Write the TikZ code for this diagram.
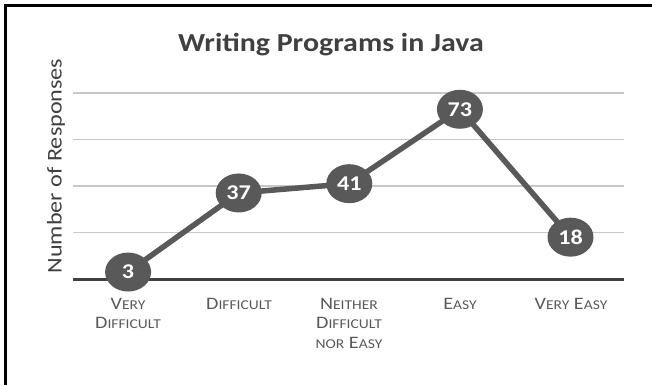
\documentclass[tikz,border=0pt]{standalone}
\usepackage{fontspec}
\setmainfont{Carlito}[FakeStretch=1.15]
\usepackage{tikz}
\usetikzlibrary{positioning,shapes.geometric}

\definecolor{inkgray}{HTML}{595959}
\definecolor{axisgray}{HTML}{404040}
\definecolor{gridgray}{HTML}{C8C8C8}
\definecolor{titlegray}{HTML}{404040}

% fake small caps: big first letter, smaller capitals after it
\newcommand{\fsc}[2]{#1{\fontsize{13.5}{19.5}\selectfont #2}}

\begin{document}
\begin{tikzpicture}[
  x=1pt, y=-1pt,
  every node/.style={inner sep=0pt},
  frame/.style={line width=3.5pt, black},
  grid line/.style={line width=1.8pt, gridgray},
  axis line/.style={line width=3pt, axisgray},
  trend/.style={line width=5.5pt, inkgray, line join=round},
  dot/.style={ellipse, fill=inkgray, minimum width=46pt, minimum height=39pt,
    text=white, font=\fontsize{21}{22}\selectfont\bfseries},
  cat/.style={anchor=north, align=center, text=inkgray,
    font=\fontsize{17.5}{19.5}\selectfont},
]
\useasboundingbox (0,0) rectangle (652,385);
\draw[frame] (5.5,385) -- (5.5,5.5) -- (652,5.5);

% grid and axis
\foreach \g in {20,40,60,80}
  \draw[grid line] (73,{279-2.325*\g}) -- (624,{279-2.325*\g});
\coordinate (ax0) at (73,279);
\coordinate (ax1) at (624,279);
\draw[axis line] (ax0) -- (ax1);

% data points
\foreach \v [count=\i] in {3,37,41,73,18}
  \coordinate (c\i) at ({17.5+110.6*\i},{279-2.325*\v});
\draw[trend] (c1) -- (c2) -- (c3) -- (c4) -- (c5);
\foreach \v [count=\i] in {3,37,41,73,18}
  \node[dot] (p\i) at (c\i) {\v};

% labels
\node[font=\fontsize{26}{30}\selectfont\bfseries, text=titlegray] (title) at (331,45) {Writing Programs in Java};
\node[rotate=90, font=\fontsize{21}{24}\selectfont, text=titlegray] (ylab) at (56,166) {Number of Responses};
\node[cat] (cat1) at (128,298) {\fsc{V}{ERY}\\\fsc{D}{IFFICULT}};
\node[cat] (cat2) at (239,298) {\fsc{D}{IFFICULT}};
\node[cat] (cat3) at (349,298) {\fsc{N}{EITHER}\\\fsc{D}{IFFICULT}\\\fsc{}{NOR} \fsc{E}{ASY}};
\node[cat] (cat4) at (460,298) {\fsc{E}{ASY}};
\node[cat] (cat5) at (571,298) {\fsc{V}{ERY} \fsc{E}{ASY}};
\end{tikzpicture}
\end{document}
